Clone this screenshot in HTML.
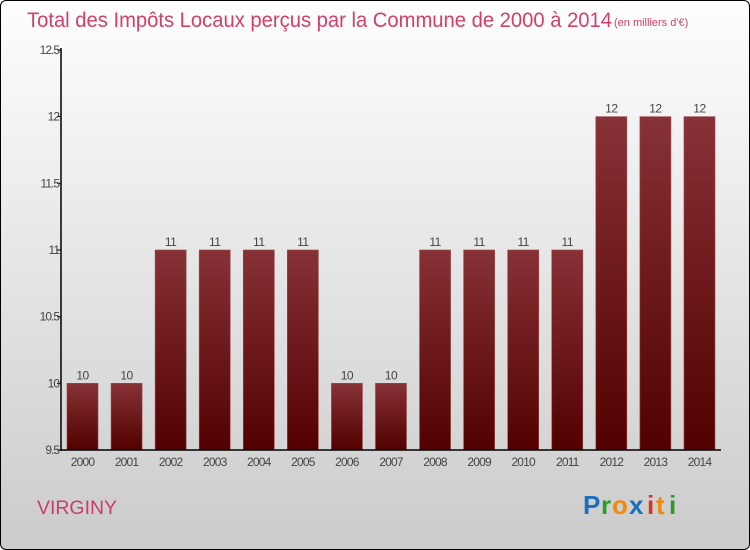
<!DOCTYPE html>
<html><head><meta charset="utf-8"><style>
body{margin:0}
#wrap{position:relative;width:750px;height:550px;box-sizing:border-box;border:1px solid #000;border-radius:6px;overflow:hidden;background:linear-gradient(#fefefe,#d8d8d8 75%,#cbcbcb);font-family:"Liberation Sans",sans-serif}
</style></head><body>
<div id="wrap">
<svg width="750" height="550" style="position:absolute;left:-1px;top:-1px">
<defs><linearGradient id="bg" x1="0" y1="0" x2="0" y2="1"><stop offset="0" stop-color="#873236"/><stop offset="1" stop-color="#520000"/></linearGradient></defs>
<text x="27" y="27" font-size="21" fill="#d0406a" textLength="585" lengthAdjust="spacingAndGlyphs">Total des Impôts Locaux perçus par la Commune de 2000 à 2014</text>
<text x="614" y="26" font-size="11" fill="#d0406a">(en milliers d'€)</text>
<g id="marks"></g>
<line x1="61" y1="48" x2="61" y2="451" stroke="#000" stroke-width="1.5"/>
<line x1="61" y1="450" x2="721" y2="450" stroke="#000" stroke-width="1.5"/>
<text x="37" y="514" font-size="19" fill="#c8406a" textLength="80" lengthAdjust="spacingAndGlyphs">VIRGINY</text>
<g font-family="'Liberation Sans',sans-serif" font-size="26" font-weight="bold">
<text x="583" y="514" fill="#1a6fc0">P</text><text x="601" y="514" fill="#2a9a2a">r</text><text x="612" y="514" fill="#f08a10">o</text><text x="629" y="514" fill="#1a6fc0">x</text><text x="647" y="514" fill="#e03020">i</text><text x="656" y="514" fill="#f08a10">t</text><text x="669" y="514" fill="#2a9a2a">i</text></g>
</svg>
</div>
<script>
const years=["2000","2001","2002","2003","2004","2005","2006","2007","2008","2009","2010","2011","2012","2013","2014"];
const values=[10,10,11,11,11,11,10,10,11,11,11,11,12,12,12];
const yTicks=[9.5,10,10.5,11,11.5,12,12.5];
const yTickLabels=["9.5","10","10.5","11","11.5","12","12.5"];
const NS="http://www.w3.org/2000/svg";
const g=document.getElementById('marks');
const y=v=>450-(v-9.5)*(400/3);
const xc=i=>82.5+i*44.07;
function mk(t,a){const e=document.createElementNS(NS,t);for(const k in a)e.setAttribute(k,a[k]);g.appendChild(e);return e;}
yTicks.forEach((t,i)=>{
 const l=mk('line',{x1:57,x2:61,y1:y(t),y2:y(t),stroke:'#000'});
 
 
 const tx=mk('text',{x:59,y:y(t)+4,'font-size':12,fill:'#444','text-anchor':'end','letter-spacing':'-1'});
 tx.textContent=yTickLabels[i];
 
 
});
years.forEach((yr,i)=>{
 const v=values[i];
 const r=mk('rect',{x:xc(i)-15.5,y:y(v),width:31,height:450-y(v),fill:'url(#bg)',stroke:'#9a4448','stroke-width':0.6});
 
 
 const vl=mk('text',{x:xc(i),y:y(v)-4,'font-size':12,fill:'#444','text-anchor':'middle','letter-spacing':'-0.5'});
 vl.textContent=v;
 
 
 const xl=mk('text',{x:xc(i),y:466,'font-size':12,fill:'#444','text-anchor':'middle','letter-spacing':'-0.8'});
 xl.textContent=yr;
 
 
});
</script>
</body></html>
